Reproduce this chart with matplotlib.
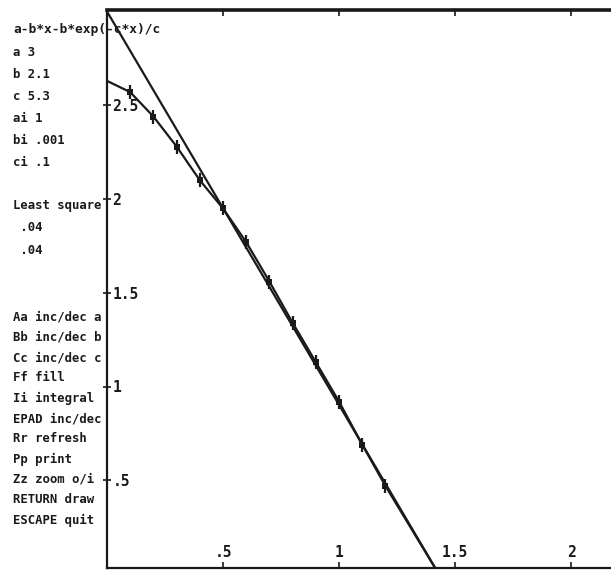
import matplotlib
matplotlib.use("Agg")
import matplotlib.pyplot as plt

# Straight line (asymptote a - b*x)
line_x = [0.0, 1.43]
line_y = [3.0, 0.0]

# Curve
curve_x = [0.0, 0.1, 0.2, 0.3, 0.4, 0.5, 0.6, 0.7, 0.8, 0.9, 1.0, 1.1, 1.2, 1.43]
curve_y = [2.63, 2.57, 2.44, 2.28, 2.10, 1.95, 1.77, 1.56, 1.34, 1.13, 0.92, 0.69, 0.47, 0.0]

# Marked points
mark_x = [0.1, 0.2, 0.3, 0.4, 0.5, 0.6, 0.7, 0.8, 0.9, 1.0, 1.1, 1.2]
mark_y = [2.57, 2.44, 2.28, 2.10, 1.95, 1.77, 1.56, 1.34, 1.13, 0.92, 0.69, 0.47]

x_ticks = [0.5, 1.0, 1.5, 2.0]
x_tick_labels = [".5", "1", "1.5", "2"]
y_ticks = [0.5, 1.0, 1.5, 2.0, 2.5]
y_tick_labels = [".5", "1", "1.5", "2", "2.5"]

side_lines_top = ["a-b*x-b*exp(-c*x)/c", "a 3", "b 2.1", "c 5.3", "ai 1", "bi .001",
                  "ci .1", "", "Least square", " .04", " .04"]
side_lines_bottom = ["Aa inc/dec a", "Bb inc/dec b", "Cc inc/dec c", "Ff fill",
                     "Ii integral", "EPAD inc/dec", "Rr refresh", "Pp print",
                     "Zz zoom o/i", "RETURN draw", "ESCAPE quit"]

W, H = 611, 571
fig = plt.figure(figsize=(W / 100, H / 100), dpi=100)
fig.patch.set_facecolor("white")

ax_left, ax_right, ax_top, ax_bottom = 107, 611, 10, 568
ax = fig.add_axes([ax_left / W, 1 - ax_bottom / H, (ax_right - ax_left) / W,
                   (ax_bottom - ax_top) / H])
ax.set_xlim(0, (ax_right - ax_left) / 232.0)
ax.set_ylim((574 - ax_bottom) / 187.5, (574 - ax_top) / 187.5)

ink = "#1a1a1a"
ax.plot(line_x, line_y, color=ink, lw=1.6, solid_capstyle="butt", clip_on=True)
ax.plot(curve_x, curve_y, color=ink, lw=1.6, clip_on=True)
ax.plot(mark_x, mark_y, linestyle="none", marker="s", markersize=4.5,
        color=ink, markeredgewidth=0)
ax.plot(mark_x, mark_y, linestyle="none", marker="|", markersize=10,
        color=ink, markeredgewidth=1.6)

for s in ["left", "top", "bottom"]:
    ax.spines[s].set_color(ink)
ax.spines["left"].set_linewidth(1.6)
ax.spines["bottom"].set_linewidth(1.6)
ax.spines["top"].set_linewidth(2.6)
ax.spines["right"].set_visible(False)

ax.set_xticks(x_ticks)
ax.set_xticklabels([])
ax.set_yticks(y_ticks)
ax.set_yticklabels([])
ax.tick_params(axis="x", direction="in", length=4, width=1.2, color=ink,
               top=True, bottom=True)
ax.tick_params(axis="y", direction="inout", length=6, width=1.2, color=ink)

font = dict(family="DejaVu Sans Mono", fontweight="bold", fontsize=10.5, color=ink)
menu_font = dict(family="DejaVu Sans Mono", fontweight="bold", fontsize=8.8, color=ink)
title_font = dict(family="DejaVu Sans Mono", fontweight="bold", fontsize=9.3, color=ink)

# tick labels drawn inside the frame, like the original screen
ymin = ax.get_ylim()[0]
for xv, lab in zip(x_ticks, x_tick_labels):
    ax.annotate(lab, xy=(xv, ymin), xytext=(0, 6), textcoords="offset points",
                ha="center", va="bottom", **font)
for yv, lab in zip(y_ticks, y_tick_labels):
    ax.annotate(lab, xy=(0, yv), xytext=(4, -1), textcoords="offset points",
                ha="left", va="center", **font)

# left-hand menu text
y0 = 30
for i, t in enumerate(side_lines_top):
    if t:
        f = title_font if i == 0 else menu_font
        fig.text(13 / W, 1 - (y0 + i * 22) / H, t, ha="left", va="center", **f)
y1 = 317
for i, t in enumerate(side_lines_bottom):
    fig.text(13 / W, 1 - (y1 + i * 20.3) / H, t, ha="left", va="center", **menu_font)

fig.savefig("out.png", dpi=100, facecolor="white")
